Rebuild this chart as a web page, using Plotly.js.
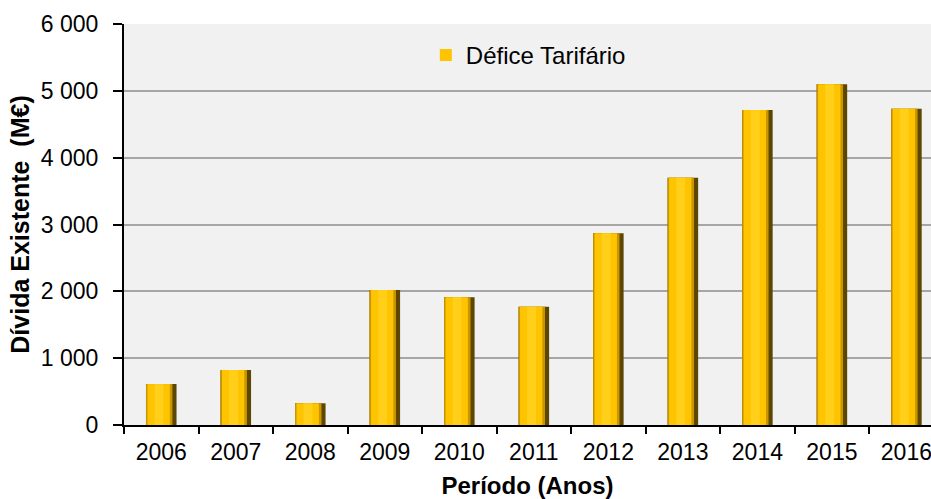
<!DOCTYPE html>
<html>
<head>
<meta charset="utf-8">
<script src="https://cdn.plot.ly/plotly-3.0.1.min.js"></script>
<style>html,body{margin:0;padding:0;background:#fff;}#chart{width:931px;height:499px;}</style>
</head>
<body>
<div id="chart"></div>
<script>
const years = ["2006","2007","2008","2009","2010","2011","2012","2013","2014","2015","2016"];
const deficeTarifario = [612, 822, 325, 2020, 1910, 1771, 2868, 3700, 4713, 5098, 4733];
const seriesName = "Défice Tarifário";
const yTitle = "Dívida Existente  (M€)";
const xTitle = "Período (Anos)";

const font = "Liberation Sans, Arial, sans-serif";

const layers = [
  {w: 0.41, off: -0.205, color: "#5c4600"},
  {w: 0.355, off: -0.205, color: "#c99500"},
  {w: 0.30, off: -0.185, color: "#ffc400"},
  {w: 0.12, off: -0.09, color: "#ffcf1a"}
];
const traces = layers.map((l, i) => ({
  type: "bar",
  x: years,
  y: deficeTarifario,
  name: seriesName,
  width: l.w,
  offset: l.off,
  showlegend: i === 2,
  marker: {color: l.color, line: {width: 0}},
  hoverinfo: "x+y"
}));

const layout = {
  width: 931, height: 499,
  margin: {l: 124, r: 0, t: 24, b: 74},
  paper_bgcolor: "#ffffff",
  plot_bgcolor: "#f1f1f1",
  barmode: "overlay",
  separators: ", ",
  font: {family: font, color: "#000", size: 23},
  showlegend: true,
  legend: {x: 0.374, y: 0.978, xanchor: "left", yanchor: "top", bgcolor: "rgba(0,0,0,0)",
           font: {size: 24, family: font}, itemwidth: 30},
  xaxis: {
    type: "category",
    range: [-0.5, 10.33],
    tickson: "boundaries",
    ticks: "outside", ticklen: 7, tickwidth: 2, tickcolor: "#000",
    ticklabelstandoff: 5,
    showline: true, linecolor: "#000", linewidth: 2,
    showgrid: false,
    automargin: false,
    tickfont: {size: 23},
    title: {text: xTitle, font: {size: 24, family: font, weight: "bold"}, standoff: 18}
  },
  yaxis: {
    range: [0, 6000],
    dtick: 1000,
    tickformat: ",d",
    ticks: "outside", ticklen: 9, tickwidth: 2, tickcolor: "#000",
    ticklabelstandoff: 10,
    showline: true, linecolor: "#000", linewidth: 2,
    showgrid: true, gridcolor: "#a6a6a6", gridwidth: 2,
    zeroline: false,
    automargin: false,
    tickfont: {size: 23},
    title: {text: yTitle, font: {size: 25, family: font, weight: "bold"}, standoff: 4}
  }
};

Plotly.newPlot("chart", traces, layout, {displayModeBar: false, staticPlot: true});
</script>
</body>
</html>
